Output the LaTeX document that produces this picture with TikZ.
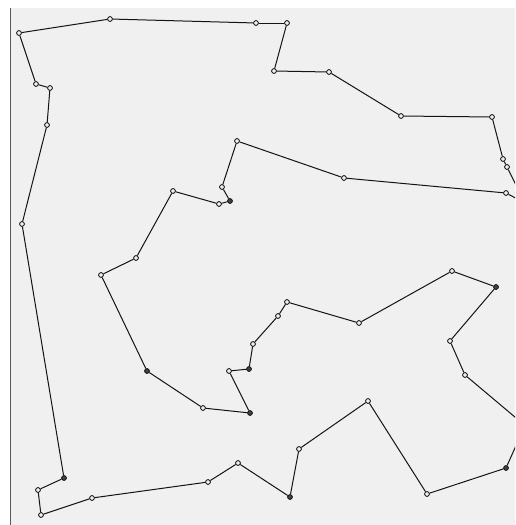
\documentclass[tikz,border=0pt]{standalone}
\usepackage{tikz}
\definecolor{bgpanel}{HTML}{F0F0F0}
\definecolor{framegray}{HTML}{5A5A5A}
\definecolor{edgecol}{HTML}{141414}
\begin{document}
\begin{tikzpicture}[x=1pt,y=-1pt,
  pt/.style={circle,draw=edgecol,fill=bgpanel,line width=0.85pt,inner sep=0pt,minimum size=4.8pt},
  ptf/.style={pt,fill=edgecol!80},
  edge/.style={draw=edgecol,line width=1pt}]
\useasboundingbox (0,0) rectangle (515,525);
\fill[white] (0,0) rectangle (515,525);
\fill[bgpanel] (11,8) rectangle (515,525);
\draw[framegray,line width=1.5pt] (10.5,8) -- (10.5,525);
\begin{scope}
\clip (11,8) rectangle (515,525);
\node[pt] (p1) at (19,33) {};
\node[pt] (p2) at (110,19) {};
\node[pt] (p3) at (256,23) {};
\node[pt] (p4) at (287,23) {};
\node[pt] (p5) at (274,71) {};
\node[pt] (p6) at (329,72) {};
\node[pt] (p7) at (401,116) {};
\node[pt] (p8) at (492,117) {};
\node[pt] (p9) at (503,159) {};
\node[pt] (p10) at (507,167) {};
\coordinate (q1) at (525,203);
\node[pt] (p11) at (506,193) {};
\node[pt] (p12) at (344,178) {};
\node[pt] (p13) at (237,141) {};
\node[pt] (p14) at (222,187) {};
\node[ptf] (p15) at (230,201) {};
\node[pt] (p16) at (219,204) {};
\node[pt] (p17) at (173,191) {};
\node[pt] (p18) at (136,258) {};
\node[pt] (p19) at (101,275) {};
\node[ptf] (p20) at (147,371) {};
\node[pt] (p21) at (203,408) {};
\node[ptf] (p22) at (250,413) {};
\node[pt] (p23) at (229,371) {};
\node[ptf] (p24) at (249,369) {};
\node[pt] (p25) at (253,344) {};
\node[pt] (p26) at (278,316) {};
\node[pt] (p27) at (287,302) {};
\node[pt] (p28) at (359,323) {};
\node[pt] (p29) at (452,271) {};
\node[ptf] (p30) at (496,287) {};
\node[pt] (p31) at (450,341) {};
\node[pt] (p32) at (465,375) {};
\coordinate (q2) at (525,425.5);
\node[ptf] (p33) at (506,468) {};
\node[pt] (p34) at (427,494) {};
\node[pt] (p35) at (368,401) {};
\node[pt] (p36) at (299,449) {};
\node[ptf] (p37) at (290,497) {};
\node[pt] (p38) at (238,463) {};
\node[pt] (p39) at (208,482) {};
\node[pt] (p40) at (92,498) {};
\node[pt] (p41) at (41,515) {};
\node[pt] (p42) at (38,490) {};
\node[ptf] (p43) at (64,478) {};
\node[pt] (p44) at (22,224) {};
\node[pt] (p45) at (47,125) {};
\node[pt] (p46) at (50,88) {};
\node[pt] (p47) at (36,84) {};
\path[edge] (p1) -- (p2);
\path[edge] (p2) -- (p3);
\path[edge] (p3) -- (p4);
\path[edge] (p4) -- (p5);
\path[edge] (p5) -- (p6);
\path[edge] (p6) -- (p7);
\path[edge] (p7) -- (p8);
\path[edge] (p8) -- (p9);
\path[edge] (p9) -- (p10);
\path[edge] (p10) -- (q1);
\path[edge] (q1) -- (p11);
\path[edge] (p11) -- (p12);
\path[edge] (p12) -- (p13);
\path[edge] (p13) -- (p14);
\path[edge] (p14) -- (p15);
\path[edge] (p15) -- (p16);
\path[edge] (p16) -- (p17);
\path[edge] (p17) -- (p18);
\path[edge] (p18) -- (p19);
\path[edge] (p19) -- (p20);
\path[edge] (p20) -- (p21);
\path[edge] (p21) -- (p22);
\path[edge] (p22) -- (p23);
\path[edge] (p23) -- (p24);
\path[edge] (p24) -- (p25);
\path[edge] (p25) -- (p26);
\path[edge] (p26) -- (p27);
\path[edge] (p27) -- (p28);
\path[edge] (p28) -- (p29);
\path[edge] (p29) -- (p30);
\path[edge] (p30) -- (p31);
\path[edge] (p31) -- (p32);
\path[edge] (p32) -- (q2);
\path[edge] (q2) -- (p33);
\path[edge] (p33) -- (p34);
\path[edge] (p34) -- (p35);
\path[edge] (p35) -- (p36);
\path[edge] (p36) -- (p37);
\path[edge] (p37) -- (p38);
\path[edge] (p38) -- (p39);
\path[edge] (p39) -- (p40);
\path[edge] (p40) -- (p41);
\path[edge] (p41) -- (p42);
\path[edge] (p42) -- (p43);
\path[edge] (p43) -- (p44);
\path[edge] (p44) -- (p45);
\path[edge] (p45) -- (p46);
\path[edge] (p46) -- (p47);
\path[edge] (p47) -- (p1);
\end{scope}
\end{tikzpicture}
\end{document}
